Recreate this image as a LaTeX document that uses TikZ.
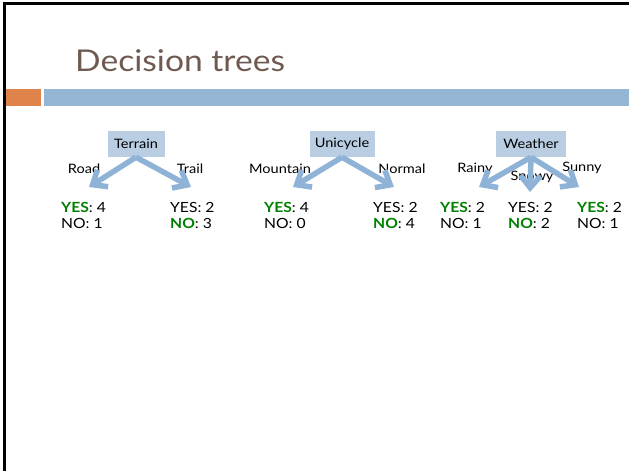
\documentclass[tikz,border=0pt]{standalone}
\usepackage{fontspec}
\setmainfont{Lato}[FakeStretch=1.12]
\usetikzlibrary{arrows.meta}
\definecolor{titlebrown}{HTML}{6F5A52}
\definecolor{barorange}{HTML}{E0834A}
\definecolor{barblue}{HTML}{94B6D2}
\definecolor{boxfill}{HTML}{B9CDE3}
\definecolor{arrowblue}{HTML}{8FB3D6}
\definecolor{yesgreen}{HTML}{008000}
\tikzset{
  attr/.style={fill=boxfill, minimum height=26pt, inner xsep=5pt, font=\fontsize{13}{15}\selectfont},
  branch/.style={inner sep=1pt, font=\fontsize{13}{15}\selectfont},
  count/.style={anchor=west, inner sep=0pt, font=\fontsize{14}{16}\selectfont},
  split/.style={draw=arrowblue, line width=5.5pt,
    -{Straight Barb[length=12pt, width=20pt]}},
}
\newcommand{\good}[1]{\textbf{\textcolor{yesgreen}{#1}}}
\begin{document}
\begin{tikzpicture}[x=1pt, y=-1pt]
\useasboundingbox (0,0) rectangle (629,471);
% slide frame (top and left edges)
\draw[line width=3pt] (4,472) -- (4,3.5) -- (630,3.5);
% title
\node[anchor=base west, inner sep=0pt, text=titlebrown, font=\fontsize{30}{34}\selectfont] (title) at (75,71) {Decision trees};
% header bars
\fill[barorange] (6,89) rectangle (41,106);
\fill[barblue] (44,89) rectangle (629,106);

% ---- Terrain ----
\node[attr, minimum width=57pt] (terrain) at (136,144) {Terrain};
\node[branch] (road) at (84,169) {Road};
\node[branch] (trail) at (190,169) {Trail};
\coordinate (t1) at (89,187);
\coordinate (t2) at (191,187);
\node[count] (ty1) at (61,207) {\good{YES}: 4};
\node[count] (tn1) at (61,223) {NO: 1};
\node[count] (ty2) at (170,207) {YES: 2};
\node[count] (tn2) at (170,223) {\good{NO}: 3};

% ---- Unicycle ----
\node[attr, minimum width=65pt] (unicycle) at (342,144) {Unicycle};
\node[branch] (mountain) at (280,169) {Mountain};
\node[branch] (normal) at (402,169) {Normal};
\coordinate (u1) at (293,187);
\coordinate (u2) at (394,187);
\node[count] (uy1) at (264,207) {\good{YES}: 4};
\node[count] (un1) at (264,223) {NO: 0};
\node[count] (uy2) at (373,207) {YES: 2};
\node[count] (un2) at (373,223) {\good{NO}: 4};

% ---- Weather ----
\node[attr, minimum width=70pt] (weather) at (531,144) {Weather};
\node[branch] (rainy) at (475,169) {Rainy};
\node[branch] (snowy) at (532,177) {Snowy};
\node[branch] (sunny) at (582,168) {Sunny};
\coordinate (w1) at (479,187);
\coordinate (w2) at (530,192);
\coordinate (w3) at (579,187);
\node[count] (wy1) at (440,207) {\good{YES}: 2};
\node[count] (wn1) at (440,223) {NO: 1};
\node[count] (wy2) at (508,207) {YES: 2};
\node[count] (wn2) at (508,223) {\good{NO}: 2};
\node[count] (wy3) at (577,207) {\good{YES}: 2};
\node[count] (wn3) at (577,223) {NO: 1};

% split arrows, drawn over the branch labels
\draw[split] (terrain.south) -- (t1);
\draw[split] (terrain.south) -- (t2);
\draw[split] (unicycle.south) -- (u1);
\draw[split] (unicycle.south) -- (u2);
\draw[split] (weather.south) -- (w1);
\draw[split] (weather.south) -- (w2);
\draw[split] (weather.south) -- (w3);
\end{tikzpicture}
\end{document}
